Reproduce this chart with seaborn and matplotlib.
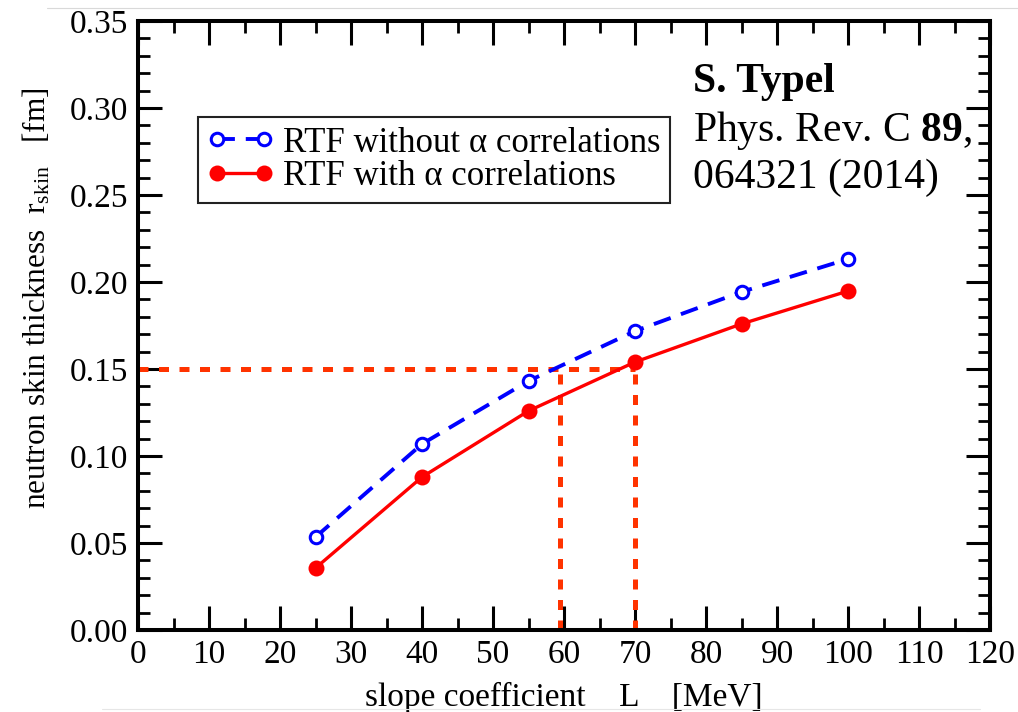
import matplotlib
matplotlib.use("Agg")
import numpy as np
import pandas as pd
import seaborn as sns
import matplotlib.pyplot as plt
from matplotlib.ticker import MultipleLocator, FormatStrFormatter
from matplotlib.lines import Line2D

# ---- data ----
L_values = [25, 40, 55, 70, 85, 100]
rskin_without = [0.0534, 0.1069, 0.1431, 0.1718, 0.1943, 0.2132]
rskin_with = [0.0356, 0.0879, 0.1259, 0.1540, 0.1759, 0.1948]
series_labels = ["RTF without α correlations", "RTF with α correlations"]
guide_y = 0.15
guide_x = [59.4, 70]
x_ticks = list(range(0, 121, 10))
y_ticks = [0.00, 0.05, 0.10, 0.15, 0.20, 0.25, 0.30, 0.35]

df = pd.DataFrame({
    "L": L_values * 2,
    "rskin": rskin_without + rskin_with,
    "series": [series_labels[0]] * len(L_values) + [series_labels[1]] * len(L_values),
})

sns.set_style("ticks")
plt.rcParams["font.family"] = ["Liberation Serif", "DejaVu Serif"]
plt.rcParams["mathtext.fontset"] = "custom"
plt.rcParams["mathtext.rm"] = "Liberation Serif"
plt.rcParams["mathtext.it"] = "Liberation Serif:italic"
plt.rcParams["mathtext.bf"] = "Liberation Serif:bold"
for k in ["text.color", "axes.labelcolor", "xtick.color", "ytick.color", "axes.edgecolor"]:
    plt.rcParams[k] = "black"

fig = plt.figure(figsize=(10.18, 7.12), dpi=100)
ax = fig.add_axes([0.1356, 0.1152, 0.8369, 0.8553])

guide_color = "#ff3300"
ax.hlines(guide_y, 0, guide_x[-1], colors=guide_color, linewidth=3.6,
          linestyles=(0, (2.0, 2.1)), zorder=2)
ax.vlines(guide_x, 0, guide_y, colors=guide_color, linewidth=3.6,
          linestyles=(0, (2.0, 2.1)), zorder=2)

d0 = df[df["series"] == series_labels[0]]
d1 = df[df["series"] == series_labels[1]]
sns.lineplot(data=d0, x="L", y="rskin", ax=ax, color="#0000ff", linewidth=2.8,
             linestyle=(0, (4.6, 2.8)), marker="o", markersize=9,
             markerfacecolor="white", markeredgecolor="#0000ff",
             markeredgewidth=2.2, label=series_labels[0], zorder=3)
sns.lineplot(data=d1, x="L", y="rskin", ax=ax, color="#ff0000", linewidth=2.4,
             marker="o", markersize=11.5, markerfacecolor="#ff0000",
             markeredgecolor="#ff0000", markeredgewidth=0,
             label=series_labels[1], zorder=3)

ax.set_xlim(0, 120)
ax.set_ylim(0, 0.35)
ax.set_xticks(x_ticks)
ax.set_yticks(y_ticks)
ax.yaxis.set_major_formatter(FormatStrFormatter("%.2f"))
ax.xaxis.set_minor_locator(MultipleLocator(5))
ax.yaxis.set_minor_locator(MultipleLocator(0.01))

for s in ax.spines.values():
    s.set_linewidth(2.9)
    s.set_color("black")
    s.set_visible(True)

ax.tick_params(which="both", direction="in", top=True, right=True, colors="black")
ax.tick_params(which="major", length=17, width=2.2, labelsize=24, pad=7)
ax.tick_params(which="minor", length=8.5, width=2.0)

ax.set_xlabel("slope coefficient    L    [MeV]", fontsize=24)
ax.set_ylabel("neutron skin thickness  r$_{\\rm skin}$   [fm]", fontsize=22.5)
ax.xaxis.set_label_coords(0.5, -0.085)
ax.yaxis.set_label_coords(-0.100, 0.545)

leg = ax.legend(loc="upper left", bbox_to_anchor=(0.070, 0.842), borderaxespad=0,
                frameon=True, fancybox=False, edgecolor="#222222", fontsize=25,
                handlelength=1.95, borderpad=0.27, labelspacing=0.02,
                handletextpad=0.25, numpoints=2)
leg.get_frame().set_linewidth(1.5)
leg.get_frame().set_alpha(1)

fig.text(0.681, 0.885, "S. Typel", fontsize=30, fontweight="bold", va="center", ha="left")
fig.text(0.681, 0.817, "Phys. Rev. C $\\mathbf{89}$,", fontsize=30, va="center", ha="left")
fig.text(0.681, 0.750, "064321 (2014)", fontsize=30, va="center", ha="left")

fig.add_artist(Line2D([47 / 1018, 1.0], [1 - 8 / 712, 1 - 8 / 712],
                      transform=fig.transFigure, color="0.85", linewidth=0.8))
fig.add_artist(Line2D([102 / 1018, 980 / 1018], [1 - 709 / 712, 1 - 709 / 712],
                      transform=fig.transFigure, color="0.9", linewidth=0.8))

fig.savefig("out.png", dpi=100)
